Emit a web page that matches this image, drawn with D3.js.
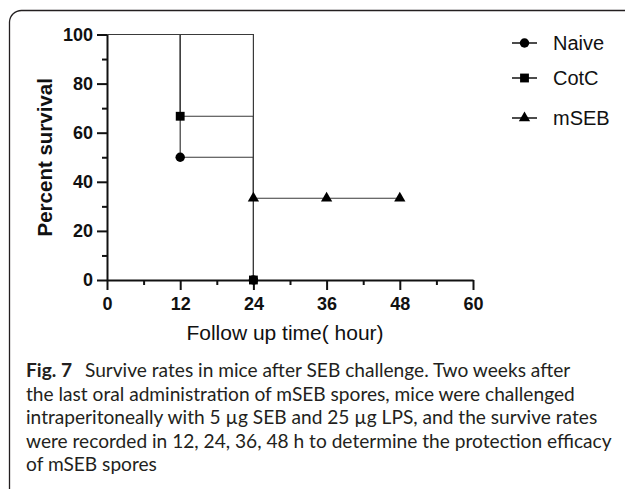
<!DOCTYPE html>
<html>
<head>
<meta charset="utf-8">
<script src="https://cdn.jsdelivr.net/npm/d3@7"></script>
<style>
  html, body { margin: 0; padding: 0; background: #fff; }
  svg { display: block; }
</style>
</head>
<body>
<script>
// survival data (Kaplan-Meier style, percent)
var groups = ["Naive", "CotC", "mSEB"];
var naiveTime = [0, 12, 24];
var naiveSurv = [100, 50, 0];
var cotcTime = [0, 12, 24];
var cotcSurv = [100, 66.7, 0];
var msebTime = [0, 24, 36, 48];
var msebSurv = [100, 33.3, 33.3, 33.3];

var xTicks = [0, 12, 24, 36, 48, 60];
var xMinor = [6, 18, 30, 42, 54];
var yTicks = [0, 20, 40, 60, 80, 100];
var yMinor = [10, 30, 50, 70, 90];

var xTitle = "Follow up time( hour)";
var yTitle = "Percent survival";
var captionLabel = "Fig. 7";
var captionLines = [
  "Survive rates in mice after SEB challenge. Two weeks after",
  "the last oral administration of mSEB spores, mice were challenged",
  "intraperitoneally with 5 µg SEB and 25 µg LPS, and the survive rates",
  "were recorded in 12, 24, 36, 48 h to determine the protection efficacy",
  "of mSEB spores"
];

var width = 625, height = 489;
var chartFont = "'Liberation Sans', Arial, sans-serif";
var captionFont = "Lato, 'Open Sans', sans-serif";

var svg = d3.select("body").append("svg")
  .attr("width", width)
  .attr("height", height);

// rounded frame, open at right and bottom
svg.append("path")
  .attr("d", "M9.5," + height + " V22 A12,12 0 0 1 21.5,10.5 H" + width)
  .attr("fill", "none")
  .attr("stroke", "#231f20")
  .attr("stroke-width", 1.3);

var x = d3.scaleLinear().domain([0, 60]).range([107, 473]);
var y = d3.scaleLinear().domain([0, 100]).range([280, 34.5]);

var series = [
  { name: groups[0], time: naiveTime, surv: naiveSurv, symbol: d3.symbolCircle, size: 70 },
  { name: groups[1], time: cotcTime, surv: cotcSurv, symbol: d3.symbolSquare, size: 78 },
  { name: groups[2], time: msebTime, surv: msebSurv, symbol: d3.symbolTriangle, size: 55 }
];

var line = d3.line()
  .x(function (d) { return x(d[0]); })
  .y(function (d) { return y(d[1]); })
  .curve(d3.curveStepAfter);

// step curves
series.forEach(function (s) {
  var pts = d3.zip(s.time, s.surv);
  svg.append("path")
    .datum(pts)
    .attr("d", line)
    .attr("fill", "none")
    .attr("stroke", "#3a3a3a")
    .attr("stroke-width", 1.2);
});

// axes
svg.append("g")
  .attr("transform", "translate(107,0)")
  .call(d3.axisLeft(y).tickValues(yTicks).tickSize(10).tickSizeOuter(0).tickPadding(4));
svg.append("g")
  .attr("transform", "translate(107,0)")
  .call(d3.axisLeft(y).tickValues(yMinor).tickSize(5).tickFormat(""))
  .select(".domain").remove();

svg.append("g")
  .attr("transform", "translate(0,280)")
  .call(d3.axisBottom(x).tickValues(xTicks).tickSize(10).tickSizeOuter(0).tickPadding(7));
svg.append("g")
  .attr("transform", "translate(0,280)")
  .call(d3.axisBottom(x).tickValues(xMinor).tickSize(5).tickFormat(""))
  .select(".domain").remove();

svg.selectAll(".domain, .tick line")
  .attr("stroke", "#111")
  .attr("stroke-width", 2);
svg.selectAll(".tick text")
  .attr("fill", "#111")
  .style("font-family", chartFont)
  .style("font-weight", "bold")
  .style("font-size", "18px");

// markers (skip the starting point at time 0)
series.forEach(function (s) {
  var pts = d3.zip(s.time, s.surv).filter(function (d) { return d[0] > 0; });
  svg.append("g").selectAll("path")
    .data(pts)
    .join("path")
    .attr("transform", function (d) { return "translate(" + x(d[0]) + "," + y(d[1]) + ")"; })
    .attr("d", d3.symbol().type(s.symbol).size(s.size))
    .attr("fill", "#000");
});

// axis titles
svg.append("text")
  .attr("transform", "translate(45," + y(50) + ") rotate(-90)")
  .attr("dy", "0.35em")
  .attr("text-anchor", "middle")
  .style("font-family", chartFont)
  .style("font-weight", "bold")
  .style("font-size", "20.5px")
  .attr("fill", "#111")
  .text(yTitle);

svg.append("text")
  .attr("x", 285)
  .attr("y", 340)
  .attr("text-anchor", "middle")
  .style("font-family", chartFont)
  .style("font-size", "21px")
  .attr("fill", "#111")
  .text(xTitle);

// legend
var legendY = [43, 78, 118];
var legend = svg.append("g").selectAll("g")
  .data(series)
  .join("g")
  .attr("transform", function (d, i) { return "translate(512," + legendY[i] + ")"; });
legend.append("line")
  .attr("x1", 0).attr("x2", 25)
  .attr("stroke", "#111")
  .attr("stroke-width", 1.5);
legend.append("path")
  .attr("transform", "translate(12.5,0)")
  .attr("d", function (d) { return d3.symbol().type(d.symbol).size(d.size)(); })
  .attr("fill", "#000");
legend.append("text")
  .attr("x", 41)
  .attr("dy", "0.35em")
  .style("font-family", chartFont)
  .style("font-size", "20px")
  .attr("fill", "#111")
  .text(function (d) { return d.name; });

// caption
var caption = svg.append("g").style("font-family", captionFont).attr("fill", "#231f20");
var captionTop = 377, lineGap = 23.5;
var captionText = caption.selectAll("text")
  .data(captionLines)
  .join("text")
  .attr("x", 26)
  .attr("y", function (d, i) { return captionTop + i * lineGap; })
  .style("font-size", "18px");
captionText.each(function (d, i) {
  var t = d3.select(this);
  if (i === 0) {
    t.append("tspan").style("font-weight", "bold").text(captionLabel);
    t.append("tspan").attr("dx", 8).text(" " + d);
  } else {
    t.text(d);
  }
});

// fit caption size so the longest line reaches the right side as in the figure
var longest = captionText.filter(function (d, i) { return i === 3; }).node();
var w = longest.getComputedTextLength();
captionText.style("font-size", (18 * 586 / w) + "px");
</script>
</body>
</html>
